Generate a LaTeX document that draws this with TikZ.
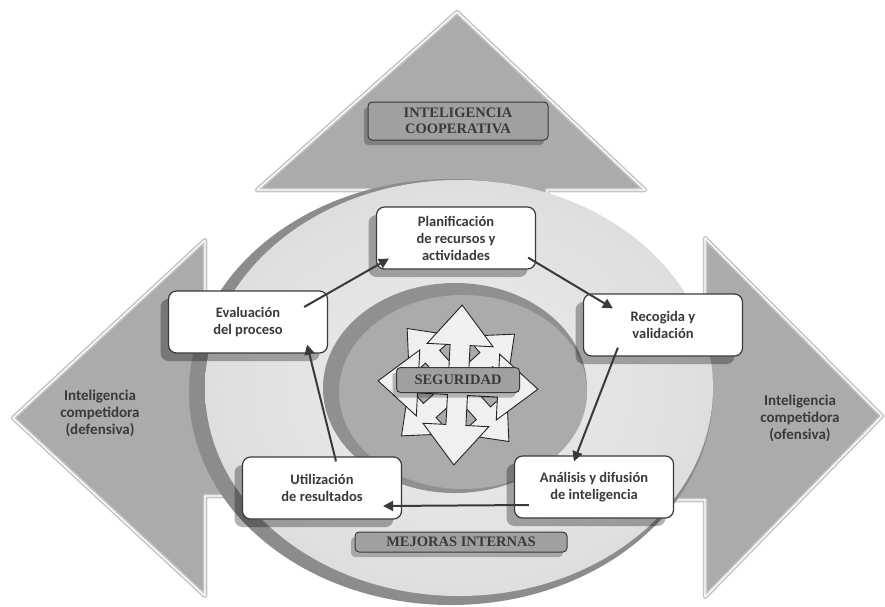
\documentclass[tikz,border=0pt]{standalone}
\usepackage{fontspec}
\setmainfont{Carlito}
\newfontfamily\capsfont{Liberation Serif}
\usetikzlibrary{shadows,arrows.meta,calc}

\definecolor{arrowgray}{HTML}{ABABAB}
\definecolor{rimgray}{HTML}{C6C6C6}
\definecolor{ringdark}{HTML}{8C8C8C}
\definecolor{coredark}{HTML}{909090}
\definecolor{corelight}{HTML}{ABABAB}
\definecolor{tagfill}{HTML}{A0A0A0}
\definecolor{inkdark}{HTML}{3A3A3A}

\tikzset{
  bigarrow/.style={fill=arrowgray, draw=rimgray, line width=4.5pt, line join=round,
    postaction={draw=white, line width=1.3pt, line join=round}},
  stage/.style={draw=inkdark, line width=1.2pt, fill=white, rounded corners=8pt,
    minimum width=159pt, minimum height=62pt, align=center, text=inkdark,
    font=\fontsize{14.5}{17}\selectfont\bfseries,
    drop shadow={shadow xshift=-8pt, shadow yshift=-8pt, fill=black, opacity=0.3}},
  tag/.style={draw=inkdark, line width=1pt, fill=tagfill, rounded corners=4pt,
    align=center, text=inkdark, inner sep=2pt,
    font=\capsfont\fontsize{14.5}{16.5}\selectfont\bfseries,
    drop shadow={shadow xshift=-4pt, shadow yshift=-5pt, fill=black, opacity=0.25}},
  side/.style={align=center, text=inkdark, font=\fontsize{15}{17}\selectfont\bfseries},
  link/.style={draw=inkdark, line width=2pt, -{Triangle[length=10pt,width=10pt]}},
  compass/.pic={
    \draw[fill=gray!12, draw=gray!30!black, line width=0.9pt]
      (10,10) -- (40,10) -- (40,33) -- (80,0) -- (40,-33) -- (40,-10) -- (10,-10)
      -- (10,-40) -- (33,-40) -- (0,-80) -- (-33,-40) -- (-10,-40) -- (-10,-10)
      -- (-40,-10) -- (-40,-33) -- (-80,0) -- (-40,33) -- (-40,10) -- (-10,10)
      -- (-10,40) -- (-33,40) -- (0,80) -- (33,40) -- (10,40) -- cycle;}
}

\begin{document}
\begin{tikzpicture}[x=1pt, y=-1pt]
  \useasboundingbox (0,0) rectangle (885,606);

  % the three big arrows
  \draw[bigarrow] (13,418) -- (205,240) -- (205,340) -- (450,340) -- (450,496)
    -- (205,496) -- (205,596) -- cycle;
  \draw[bigarrow] (882,416) -- (705,238) -- (705,336) -- (450,336) -- (450,500)
    -- (705,500) -- (705,597) -- cycle;
  \draw[bigarrow] (457,12) -- (645,190) -- (547,190) -- (547,390) -- (370,390)
    -- (370,190) -- (257,190) -- cycle;

  % discs
  \fill[ringdark] (451,392) ellipse [x radius=262, y radius=213];
  \shade[inner color=gray!14, outer color=gray!26] (459,388) ellipse [x radius=254, y radius=208];
  \fill[coredark] (455,388) ellipse [x radius=132, y radius=105];
  \fill[corelight] (463,392) ellipse [x radius=124, y radius=97];

  % security arrows
  \path (458,385) pic[rotate=42, scale=0.95] {compass};
  \path (458,385) pic[rotate=-3] {compass};

  \node[tag, minimum width=180pt, minimum height=38pt] (coop) at (458,121) {INTELIGENCIA\\COOPERATIVA};
  \node[tag, minimum width=123pt, minimum height=25pt] (seg) at (458,380) {SEGURIDAD};
  \node[tag, minimum width=212pt, minimum height=20pt, inner sep=1pt] (mejoras) at (461,542) {MEJORAS INTERNAS};

  % cycle
  \node[stage] (plan) at (456,238) {Planificación\\de recursos y\\actividades};
  \node[stage] (recog) at (663,325) {Recogida y\\validación};
  \node[stage] (anal) at (594,487) {Análisis y difusión\\de inteligencia};
  \node[stage] (util) at (322,488) {Utilización\\de resultados};
  \node[stage] (eval) at (248,322) {Evaluación\\del proceso};

  \node[side] (defens) at (100,413) {Inteligencia\\competidora\\(defensiva)};
  \node[side] (ofens) at (800,418) {Inteligencia\\competidora\\(ofensiva)};

  \draw[link] ($(eval.east)+(-24,-15)$) -- ($(plan.south west)+(13,-11)$);
  \draw[link] ($(plan.south east)+(-8,-12)$) -- ($(recog.north west)+(30,15)$);
  \draw[link] ($(recog.south west)+(35,-9)$) -- ($(anal.north west)+(60,6)$);
  \draw[link] ($(anal.west)+(15,18)$) -- ($(util.east)+(-19,18)$);
  \draw[link] ($(util.north)+(14,5)$) -- ($(eval.south east)+(-21,-9)$);
\end{tikzpicture}
\end{document}
